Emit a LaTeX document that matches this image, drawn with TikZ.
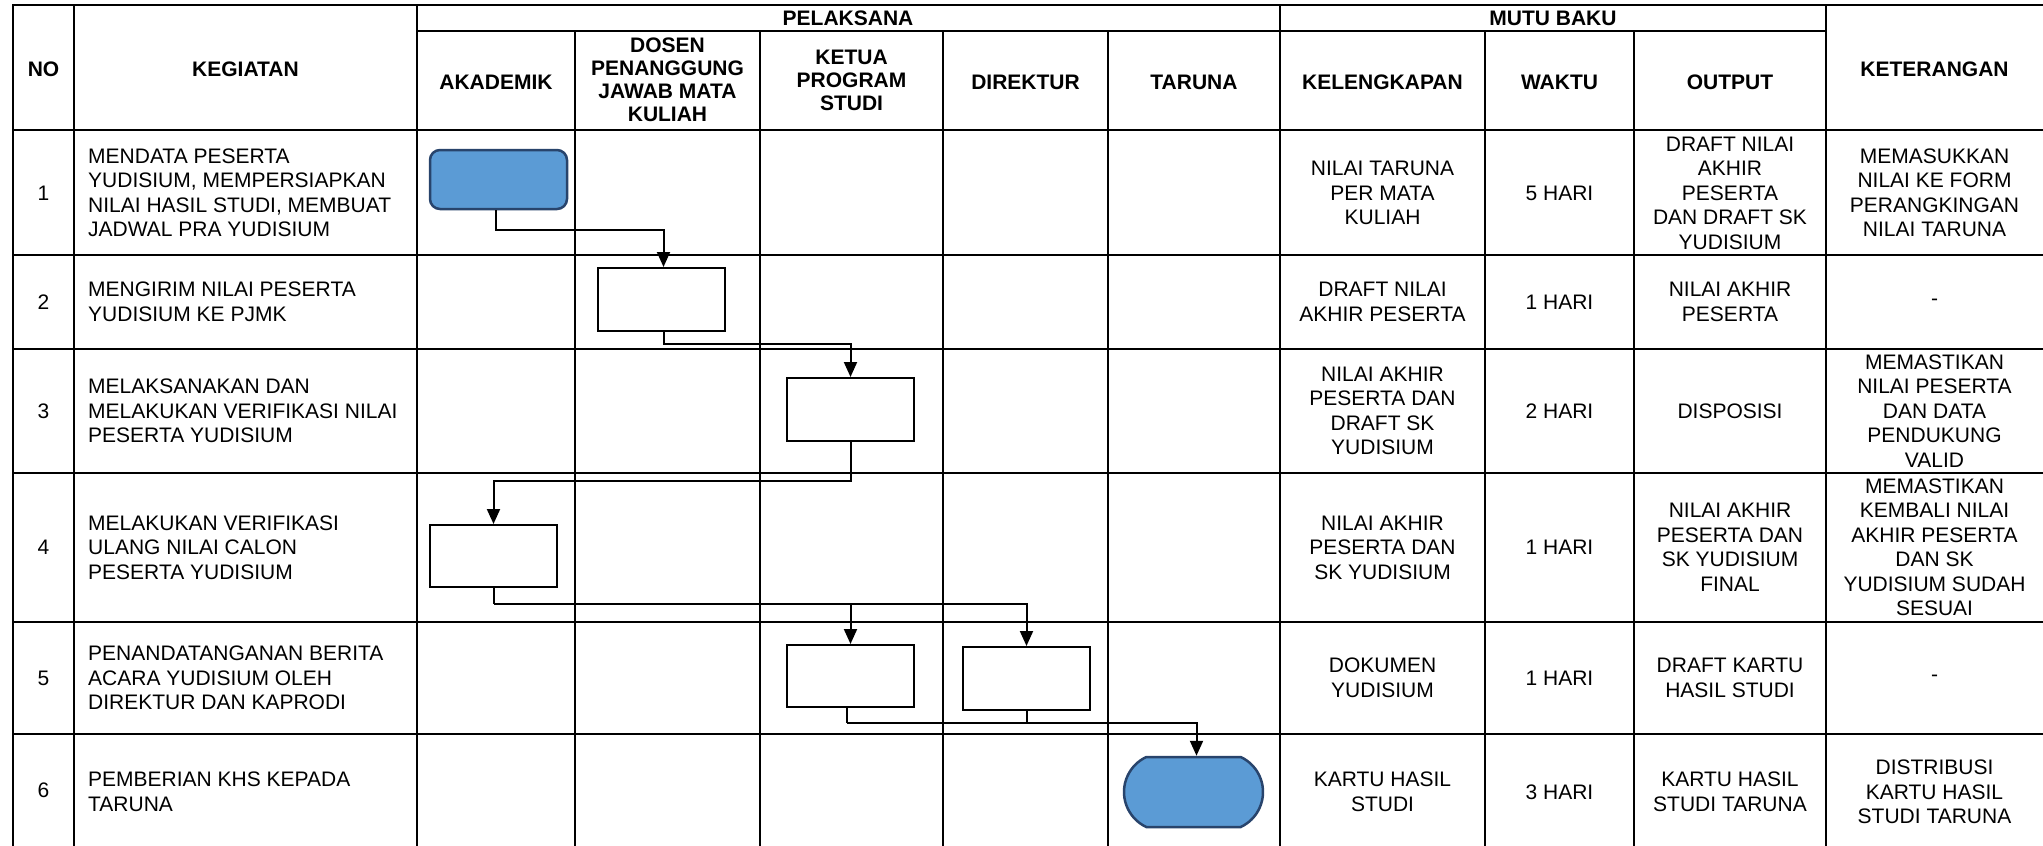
\documentclass[tikz,border=0pt]{standalone}
\usepackage{fontspec}
\setmainfont{Liberation Sans}
\usetikzlibrary{arrows.meta,shapes.misc}
\definecolor{flowblue}{RGB}{91,155,213}
\definecolor{navyline}{RGB}{40,68,108}
\begin{document}
\begin{tikzpicture}[x=1pt,y=-1pt,
  grid/.style={line width=2.5pt, line cap=rect},
  txt/.style={align=center, inner sep=0pt, font=\fontsize{21}{24.5}\selectfont},
  ltxt/.style={align=left, inner sep=0pt, anchor=west, font=\fontsize{21}{24.5}\selectfont},
  hdr/.style={align=center, inner sep=0pt, font=\fontsize{21}{23}\selectfont\bfseries},
  proc/.style={draw, line width=2pt, minimum width=127pt, minimum height=63pt, inner sep=0pt},
  startbox/.style={draw=navyline, fill=flowblue, line width=2.5pt, rounded corners=10pt, minimum width=137pt, minimum height=59pt, inner sep=0pt},
  endbox/.style={draw=navyline, fill=flowblue, line width=2.5pt, rounded rectangle, rounded rectangle arc length=130, minimum width=139pt, minimum height=70pt, inner sep=0pt},
  flow/.style={line width=2pt, -{Triangle[length=15pt,width=13pt]}},
  link/.style={line width=2pt},
  ]
\useasboundingbox (0,0) rectangle (2043,846);
\fill[white] (0,0) rectangle (2043,846);

% table grid
\foreach \x in {13,74,417,1280,1826} \draw[grid] (\x,5) -- (\x,846);
\foreach \x in {575,760,943,1108,1485,1634} \draw[grid] (\x,31) -- (\x,846);
\draw[grid] (13,5) -- (2043,5);
\draw[grid] (417,31) -- (1826,31);
\foreach \y in {130,255,349,473,622,734} \draw[grid] (13,\y) -- (2043,\y);

% header
\node[hdr] (hno) at (43.5,69) {NO};
\node[hdr] (hkeg) at (245.5,69) {KEGIATAN};
\node[hdr] (hpel) at (848,18) {PELAKSANA};
\node[hdr] (hmutu) at (1553,18) {MUTU BAKU};
\node[hdr] (hket) at (1934.5,69) {KETERANGAN};
\node[hdr] (hak) at (496,82) {AKADEMIK};
\node[hdr] (hdos) at (667.5,80) {DOSEN\\PENANGGUNG\\JAWAB MATA\\KULIAH};
\node[hdr] (hkps) at (851.5,80.5) {KETUA\\PROGRAM\\STUDI};
\node[hdr] (hdir) at (1025.5,82) {DIREKTUR};
\node[hdr] (htar) at (1194,82) {TARUNA};
\node[hdr] (hkel) at (1382.5,82) {KELENGKAPAN};
\node[hdr] (hwak) at (1559.5,82) {WAKTU};
\node[hdr] (hout) at (1730,82) {OUTPUT};

% row numbers
\node[txt] (n1) at (43.5,193) {1};
\node[txt] (n2) at (43.5,302) {2};
\node[txt] (n3) at (43.5,411) {3};
\node[txt] (n4) at (43.5,547.5) {4};
\node[txt] (n5) at (43.5,678) {5};
\node[txt] (n6) at (43.5,790) {6};

% kegiatan
\node[ltxt] (k1) at (88,193) {MENDATA PESERTA\\YUDISIUM, MEMPERSIAPKAN\\NILAI HASIL STUDI, MEMBUAT\\JADWAL PRA YUDISIUM};
\node[ltxt] (k2) at (88,302) {MENGIRIM NILAI PESERTA\\YUDISIUM KE PJMK};
\node[ltxt] (k3) at (88,411) {MELAKSANAKAN DAN\\MELAKUKAN VERIFIKASI NILAI\\PESERTA YUDISIUM};
\node[ltxt] (k4) at (88,547.5) {MELAKUKAN VERIFIKASI\\ULANG NILAI CALON\\PESERTA YUDISIUM};
\node[ltxt] (k5) at (88,678) {PENANDATANGANAN BERITA\\ACARA YUDISIUM OLEH\\DIREKTUR DAN KAPRODI};
\node[ltxt] (k6) at (88,792) {PEMBERIAN KHS KEPADA\\TARUNA};

% kelengkapan
\node[txt] (l1) at (1382.5,193) {NILAI TARUNA\\PER MATA\\KULIAH};
\node[txt] (l2) at (1382.5,302) {DRAFT NILAI\\AKHIR PESERTA};
\node[txt] (l3) at (1382.5,411) {NILAI AKHIR\\PESERTA DAN\\DRAFT SK\\YUDISIUM};
\node[txt] (l4) at (1382.5,547.5) {NILAI AKHIR\\PESERTA DAN\\SK YUDISIUM};
\node[txt] (l5) at (1382.5,678) {DOKUMEN\\YUDISIUM};
\node[txt] (l6) at (1382.5,792) {KARTU HASIL\\STUDI};

% waktu
\node[txt] (w1) at (1559.5,193) {5 HARI};
\node[txt] (w2) at (1559.5,302) {1 HARI};
\node[txt] (w3) at (1559.5,411) {2 HARI};
\node[txt] (w4) at (1559.5,547.5) {1 HARI};
\node[txt] (w5) at (1559.5,678) {1 HARI};
\node[txt] (w6) at (1559.5,792) {3 HARI};

% output
\node[txt] (o1) at (1730,193) {DRAFT NILAI\\AKHIR\\PESERTA\\DAN DRAFT SK\\YUDISIUM};
\node[txt] (o2) at (1730,302) {NILAI AKHIR\\PESERTA};
\node[txt] (o3) at (1730,411) {DISPOSISI};
\node[txt] (o4) at (1730,547.5) {NILAI AKHIR\\PESERTA DAN\\SK YUDISIUM\\FINAL};
\node[txt] (o5) at (1730,678) {DRAFT KARTU\\HASIL STUDI};
\node[txt] (o6) at (1730,792) {KARTU HASIL\\STUDI TARUNA};

% keterangan
\node[txt] (e1) at (1934.5,193) {MEMASUKKAN\\NILAI KE FORM\\PERANGKINGAN\\NILAI TARUNA};
\node[txt] (e2) at (1934.5,302) {-};
\node[txt] (e3) at (1934.5,411) {MEMASTIKAN\\NILAI PESERTA\\DAN DATA\\PENDUKUNG\\VALID};
\node[txt] (e4) at (1934.5,547.5) {MEMASTIKAN\\KEMBALI NILAI\\AKHIR PESERTA\\DAN SK\\YUDISIUM SUDAH\\SESUAI};
\node[txt] (e5) at (1934.5,678) {-};
\node[txt] (e6) at (1934.5,792) {DISTRIBUSI\\KARTU HASIL\\STUDI TARUNA};

% flow shapes
\node[startbox] (b1) at (498.5,179.5) {};
\node[proc] (b2) at (661.5,299.5) {};
\node[proc] (b3) at (850.5,409.5) {};
\node[proc, minimum height=62pt] (b4) at (493.5,556) {};
\node[proc, minimum height=62pt] (b5a) at (850.5,676) {};
\node[proc] (b5b) at (1026.5,678.5) {};
\node[endbox] (t6) at (1193.5,792) {};

% connectors
\draw[flow] ([xshift=-3pt]b1.south) -- ++(0,20) -| ([xshift=2pt]b2.north);
\draw[flow] ([xshift=2pt]b2.south) -- ++(0,12) -| (b3.north);
\draw[flow] (b3.south) -- ++(0,39) -| (b4.north);
\draw[link] (b4.south) -- ++(0,16) coordinate (j4);
\draw[flow] (j4) -| (b5a.north);
\draw[flow] (j4) -| (b5b.north);
\draw[link] ([xshift=-4pt]b5a.south) -- ++(0,15) coordinate (j5);
\draw[flow] (j5) -| ([xshift=3pt]t6.north);
\draw[link] (b5b.south) -- (b5b.south |- j5);
\end{tikzpicture}
\end{document}
